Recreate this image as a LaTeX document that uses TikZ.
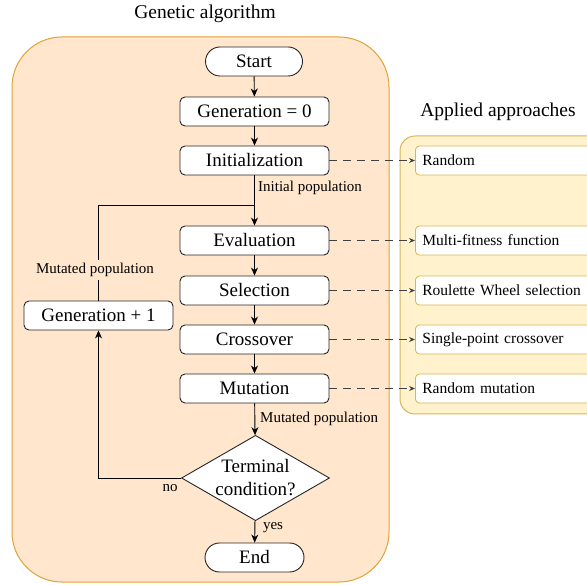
\documentclass[tikz,border=0pt]{standalone}
\usepackage{fontspec}
\setmainfont{Liberation Serif}
\usetikzlibrary{shapes.geometric,shapes.misc,arrows.meta}
\definecolor{gaFill}{HTML}{FFE6CC}
\definecolor{gaDraw}{HTML}{DFA238}
\definecolor{apFill}{HTML}{FFF2CC}
\definecolor{apDraw}{HTML}{D6B656}
\begin{document}
\begin{tikzpicture}[x=1pt,y=-1pt,
  mainfont/.style={font=\fontsize{19}{23}\selectfont},
  box/.style={draw=black!85, fill=white, rounded corners=5pt, minimum width=149pt,
    minimum height=29pt, inner sep=0pt, line width=0.9pt, mainfont},
  termbox/.style={draw=black!85, fill=white, rounded rectangle, minimum width=97pt,
    minimum height=29pt, inner sep=0pt, line width=0.9pt, mainfont},
  decision/.style={draw=black!85, fill=white, diamond, aspect=1.64, minimum width=148pt,
    inner sep=0pt, line width=0.9pt, align=center, mainfont},
  appbox/.style={draw=apDraw, fill=white, rounded corners=4pt, anchor=west,
    minimum height=29pt, text width=180pt, inner xsep=7pt, inner ysep=0pt, align=left,
    line width=0.8pt, font=\fontsize{15.5}{18}\selectfont},
  lbl/.style={font=\fontsize{15}{17}\selectfont, inner sep=1pt},
  titlelbl/.style={font=\fontsize{19.5}{22}\selectfont, inner sep=0pt},
  flow/.style={-{Stealth[length=8pt,width=7pt,inset=2.5pt]}, line width=0.9pt, draw=black},
  dflow/.style={-{Stealth[length=6pt,width=5pt,inset=2pt]}, line width=0.9pt, draw=black!75,
    dash pattern=on 8pt off 6pt},
]
\useasboundingbox (0,0) rectangle (587,585);
% containers
\draw[fill=gaFill, draw=gaDraw, line width=1pt, rounded corners=50pt] (12,37) rectangle (389,582);
\draw[fill=apFill, draw=apDraw, line width=1pt, rounded corners=15pt] (400,136) rectangle (620,414);
\node[titlelbl] (t1) at (205,14) {Genetic algorithm};
\node[titlelbl] (t2) at (498,112) {Applied approaches};
% main flow
\node[termbox] (start) at (254,61.5) {Start};
\node[box] (g0) at (254.5,111.5) {Generation = 0};
\node[box] (init) at (254.5,160.5) {Initialization};
\node[box] (eval) at (254.5,240.5) {Evaluation};
\node[box] (sel) at (254.5,290.5) {Selection};
\node[box] (cross) at (254.5,339.5) {Crossover};
\node[box] (mut) at (254.5,388.5) {Mutation};
\node[decision] (cond) at (255.5,478) {Terminal\\condition?};
\node[termbox, minimum width=99pt] (end) at (254.5,557.5) {End};
\node[box] (gp1) at (98.5,315.5) {Generation + 1};
% applied approaches
\node[appbox] (a1) at (415,160.5) {Random};
\node[appbox] (a2) at (415,240.5) {Multi-fitness function};
\node[appbox] (a3) at (415,290.5) {Roulette Wheel selection};
\node[appbox] (a4) at (415,339.5) {Single-point crossover};
\node[appbox] (a5) at (415,388.5) {Random mutation};
% connectors
\coordinate (j) at (254.5,205);
\draw[flow] (start) -- (g0);
\draw[flow] (g0) -- (init);
\draw[flow] (init) -- (eval);
\draw[flow] (eval) -- (sel);
\draw[flow] (sel) -- (cross);
\draw[flow] (cross) -- (mut);
\draw[flow] (mut) -- (cond);
\draw[flow] (cond) -- (end);
\draw[flow] (cond.west) -| (gp1.south);
\draw[line width=0.9pt] (gp1.north) |- (j);
\node[lbl, fill=gaFill, inner ysep=3pt] (mp1) at (95,270) {Mutated population};
\node[lbl, anchor=west] (ip) at (257,188) {Initial population};
\node[lbl, anchor=west] (mp2) at (259,419) {Mutated population};
\node[lbl] (no) at (170,488) {no};
\node[lbl] (yes) at (273,528) {yes};
\draw[dflow] (init.east) -- (a1.west);
\draw[dflow] (eval.east) -- (a2.west);
\draw[dflow] (sel.east) -- (a3.west);
\draw[dflow] (cross.east) -- (a4.west);
\draw[dflow] (mut.east) -- (a5.west);
\end{tikzpicture}
\end{document}
